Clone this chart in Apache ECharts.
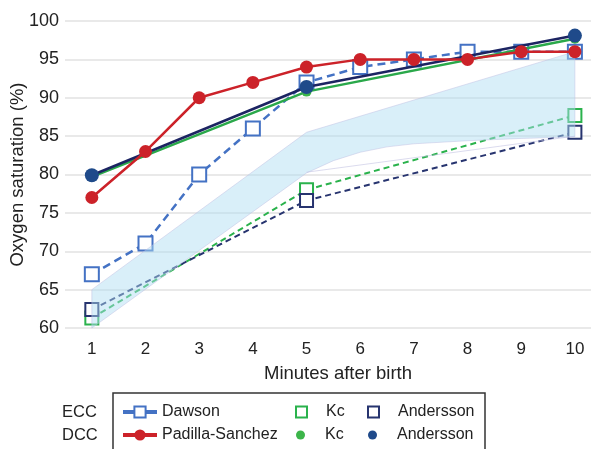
<!DOCTYPE html>
<html><head><meta charset="utf-8">
<script src="https://cdn.jsdelivr.net/npm/echarts@6/dist/echarts.min.js"></script>
<style>html,body{margin:0;padding:0;background:#fff}#c{width:591px;height:449px}</style>
</head><body><div id="c"></div>
<script>
// ---- data ----
const minutes = [1,2,3,4,5,6,7,8,9,10];
const eccDawson = [67,71,80,86,92,94,95,96,96,96];
const dccPadilla = [77,83,90,92,94,95,95,95,96,96];
const kcMinutes = [1,5,10];
const eccKc = [61.3,78,87.7];
const eccAndersson = [62.4,76.6,85.5];
const dccKc = [79.7,90.8,97.7];
const dccAndersson = [79.9,91.4,98.1];
const bandUpperX = [1,5,10];
const bandUpper = [65,85.5,96];
const bandLowerX = [1,5,5.5,6,6.5,7,8,9,10];
const bandLower = [60,80.2,81.8,82.9,83.6,84,84.4,84.7,84.9];
const bandEdgeX = [5,10];
const bandEdge = [80.3,85];

const FONT = "'Liberation Sans', Arial, Helvetica, sans-serif";
const pairs = (xs, ys) => xs.map((x,i)=>[x, ys[i]]);
const chart = echarts.init(document.getElementById('c'), null, {renderer:'canvas'});
const nameFmt = n => n.replace(/^(ECC|DCC) /,'');
const txt = {fontFamily: FONT, fontSize: 16, color: '#222'};
function lg(name, left, top, extra){
  return Object.assign({
    data:[name], left:left, top:top, selectedMode:false, formatter:nameFmt,
    padding:0, textStyle:Object.assign({}, txt)
  }, extra);
}
const row1 = 404, row2 = 427;
chart.setOption({
  animation:false,
  textStyle:{fontFamily:FONT},
  grid:{left:65, right:0, top:21, bottom:121, containLabel:false, outerBoundsMode:'none'},
  xAxis:{type:'value', min:0.5, max:10.3,
    name:'Minutes after birth', nameLocation:'middle', nameGap:36,
    nameTextStyle:{fontFamily:FONT, fontSize:18.5, color:'#222', padding:[0,0,0,20]},
    axisLine:{show:false}, axisTick:{show:false}, splitLine:{show:false},
    axisLabel:{fontFamily:FONT, fontSize:17, color:'#222', margin:13,
      customValues: minutes}},
  yAxis:{type:'value', min:60, max:100, interval:5,
    name:'Oxygen saturation (%)', nameLocation:'middle', nameGap:38, nameMoveOverlap:false,
    nameTextStyle:{fontFamily:FONT, fontSize:18.5, color:'#222'},
    axisLine:{show:false}, axisTick:{show:false},
    splitLine:{lineStyle:{color:'#e2e2e2', width:1.5}},
    axisLabel:{fontFamily:FONT, fontSize:18, color:'#222', margin:6}},
  legend:[
    lg('Dawson', 121, row1, {itemWidth:34, itemHeight:14,
      data:[{name:'Dawson', lineStyle:{type:'solid', width:4}}]}),
    lg('Padilla-Sanchez', 121, row2, {itemWidth:34, itemHeight:14,
      data:[{name:'Padilla-Sanchez', lineStyle:{type:'solid', width:4}}]}),
    lg('ECC Kc', 295, row1, {itemWidth:11, itemHeight:11, textStyle:Object.assign({},txt,{padding:[0,0,0,14]}),
      data:[{name:'ECC Kc', icon:'rect', itemStyle:{color:'#fff', borderColor:'#2ab24c', borderWidth:2}}]}),
    lg('DCC Kc', 296, row2, {itemWidth:9, itemHeight:9, textStyle:Object.assign({},txt,{padding:[0,0,0,15]}),
      data:[{name:'DCC Kc', icon:'circle', itemStyle:{color:'#3cb54a', borderWidth:0}}]}),
    lg('ECC Andersson', 367, row1, {itemWidth:11, itemHeight:11, textStyle:Object.assign({},txt,{padding:[0,0,0,14]}),
      data:[{name:'ECC Andersson', icon:'rect', itemStyle:{color:'#fff', borderColor:'#27346f', borderWidth:2}}]}),
    lg('DCC Andersson', 368, row2, {itemWidth:9, itemHeight:9, textStyle:Object.assign({},txt,{padding:[0,0,0,15]}),
      data:[{name:'DCC Andersson', icon:'circle', itemStyle:{color:'#1f4a8a', borderWidth:0}}]})
  ],
  graphic:[
    {type:'rect', shape:{x:113, y:393, width:372, height:70}, style:{fill:'none', stroke:'#333', lineWidth:1.5}, z:100},
    {type:'text', left:62, top:404, style:{text:'ECC', font:'16.5px '+FONT, fill:'#222'}},
    {type:'text', left:62, top:427, style:{text:'DCC', font:'16.5px '+FONT, fill:'#222'}}
  ],
  series:[
    {name:'ECC Kc', type:'line', z:2, data:pairs(kcMinutes, eccKc),
      symbol:'emptyRect', symbolSize:13, color:'#2ab24c',
      itemStyle:{color:'#2ab24c', borderWidth:1.8},
      lineStyle:{color:'#2ab24c', width:2, type:[6,4]}},
    {name:'ECC Andersson', type:'line', z:2, data:pairs(kcMinutes, eccAndersson),
      symbol:'emptyRect', symbolSize:13, color:'#27346f',
      itemStyle:{color:'#27346f', borderWidth:1.8},
      lineStyle:{color:'#27346f', width:2, type:[6,4]}},
    {name:'Dawson', type:'line', z:2, data:pairs(minutes, eccDawson),
      symbol:'emptyRect', symbolSize:14, color:'#4472c4',
      itemStyle:{color:'#4472c4', borderWidth:2},
      lineStyle:{color:'#4472c4', width:2.5, type:[8,5]}},
    {name:'band', type:'custom', z:3, silent:true, data:[[1,60]],
      renderItem:function(params, api){
        const up = bandUpperX.map((x,i)=>api.coord([x, bandUpper[i]]));
        const lo = bandLowerX.map((x,i)=>api.coord([x, bandLower[i]])).reverse();
        return {type:'polygon', shape:{points:up.concat(lo)},
          style:{fill:'rgba(175,222,243,0.47)', stroke:'rgba(190,190,225,0.6)', lineWidth:0.8}};
      }},
    {name:'bandEdge', type:'line', z:3, silent:true, data:pairs(bandEdgeX, bandEdge),
      symbol:'none', lineStyle:{color:'rgba(190,190,225,0.7)', width:0.8}},
    {name:'DCC Kc', type:'line', z:4, data:pairs(kcMinutes, dccKc),
      symbol:'circle', symbolSize:10, color:'#3cb54a',
      itemStyle:{color:'#3cb54a'}, lineStyle:{color:'#2aa84a', width:2.5}},
    {name:'DCC Andersson', type:'line', z:5, data:pairs(kcMinutes, dccAndersson),
      symbol:'circle', symbolSize:14, color:'#1f4a8a',
      itemStyle:{color:'#1f4a8a'}, lineStyle:{color:'#1c2462', width:2.5}},
    {name:'Padilla-Sanchez', type:'line', z:6, data:pairs(minutes, dccPadilla),
      symbol:'circle', symbolSize:13, color:'#cc2229',
      itemStyle:{color:'#cc2229'}, lineStyle:{color:'#cc2229', width:2.5}}
  ]
});
</script></body></html>
